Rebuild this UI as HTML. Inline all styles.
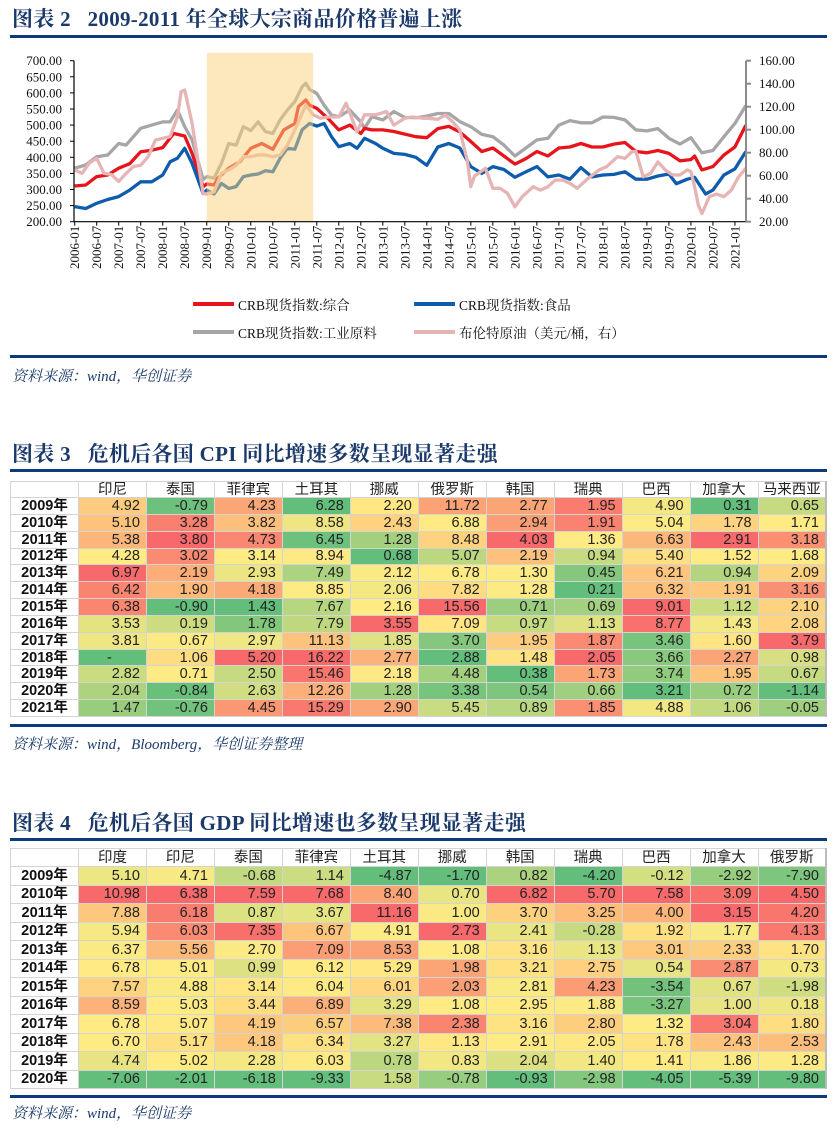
<!DOCTYPE html>
<html><head><meta charset="utf-8">
<style>
*{margin:0;padding:0;box-sizing:border-box}
body{width:837px;height:1130px;background:#fff;position:relative;overflow:hidden;font-family:"Liberation Sans","Noto Sans CJK SC",sans-serif}
.title{position:absolute;left:12px;font-family:"Liberation Serif","Noto Serif CJK SC",serif;font-weight:bold;font-size:21px;line-height:24px;color:#1b3a6b;white-space:pre;letter-spacing:0.3px}
.rule{position:absolute;left:10px;width:817px;height:3px;background:#0d3a7a}
.src{position:absolute;left:12px;font-family:"Liberation Serif","Noto Serif CJK SC",serif;font-style:italic;font-size:15px;color:#1b3a6b;white-space:pre}
.leg{position:absolute;font-family:"Liberation Serif","Noto Serif CJK SC",serif;font-size:13.5px;color:#111;white-space:nowrap;display:flex;align-items:center}
.leg i{display:inline-block;width:41px;height:4px;margin-right:4px}
table{position:absolute;left:10px;width:817px;border-collapse:collapse;table-layout:fixed;border-right:2px solid #bbb}
td,th{border:1px solid #d4d4d4;font-size:14.5px;line-height:14px;color:#222;white-space:nowrap;overflow:hidden;padding:0}
th{font-weight:normal;text-align:center;background:#fff}
td{text-align:right;padding-right:6px}
td.yr{text-align:center;font-weight:bold;background:#fff;padding:0;color:#111}
</style></head><body>

<div class="title" style="top:7px">图表 2   2009-2011 年全球大宗商品价格普遍上涨</div>
<div class="rule" style="top:35px"></div>

<svg id="chart" width="837" height="290" style="position:absolute;left:0;top:0"></svg>

<div class="leg" style="left:193px;top:294px"><i style="background:#e8141c"></i>CRB现货指数:综合</div>
<div class="leg" style="left:414px;top:294px"><i style="background:#0e5cad"></i>CRB现货指数:食品</div>
<div class="leg" style="left:193px;top:322px"><i style="background:#a6a6a6"></i>CRB现货指数:工业原料</div>
<div class="leg" style="left:414px;top:322px"><i style="background:#e6b4b4"></i>布伦特原油（美元/桶，右）</div>
<div class="rule" style="top:355px"></div>
<div class="src" style="top:365px">资料来源：wind，华创证券</div>

<div class="title" style="top:442px">图表 3   危机后各国 CPI 同比增速多数呈现显著走强</div>
<div class="rule" style="top:469px"></div>
<table id="cpi" style="top:481px"></table>
<div class="rule" style="top:724px"></div>
<div class="src" style="top:733px">资料来源：wind，Bloomberg，华创证券整理</div>

<div class="title" style="top:811px">图表 4   危机后各国 GDP 同比增速也多数呈现显著走强</div>
<div class="rule" style="top:838px"></div>
<table id="gdp" style="top:848px"></table>
<div class="rule" style="top:1095px"></div>
<div class="src" style="top:1102px">资料来源：wind，华创证券</div>

<script>
// ---- chart data ----
const redDates=["2006-01","2006-04","2006-07","2006-10","2007-01","2007-04","2007-07","2007-10","2008-01","2008-04","2008-07","2008-09","2008-12","2009-01","2009-03","2009-04","2009-07","2009-10","2010-01","2010-04","2010-07","2010-10","2011-01","2011-02","2011-04","2011-05","2011-07","2011-10","2012-01","2012-04","2012-07","2012-08","2012-10","2013-01","2013-04","2013-07","2013-10","2014-01","2014-04","2014-07","2014-10","2015-01","2015-04","2015-07","2015-10","2016-01","2016-04","2016-07","2016-10","2017-01","2017-04","2017-07","2017-10","2018-01","2018-04","2018-07","2018-10","2019-01","2019-04","2019-07","2019-10","2020-01","2020-02","2020-04","2020-07","2020-10","2021-01","2021-04"];
const redValues=[311,314,340,345,366,380,417,422,430,474,466,412,309,317,314,335,366,386,428,443,425,485,505,557,578,562,552,521,485,500,474,490,485,485,480,472,464,461,489,496,479,449,418,429,404,379,396,418,404,429,432,443,432,432,441,446,418,414,421,412,389,393,404,361,371,407,432,500];
const blueDates=["2006-01","2006-04","2006-07","2006-10","2007-01","2007-04","2007-07","2007-10","2008-01","2008-03","2008-05","2008-07","2008-09","2008-12","2009-01","2009-03","2009-05","2009-07","2009-09","2009-11","2010-01","2010-03","2010-05","2010-07","2010-09","2010-11","2011-01","2011-03","2011-05","2011-07","2011-09","2011-11","2012-01","2012-04","2012-06","2012-08","2012-11","2013-01","2013-04","2013-07","2013-10","2014-01","2014-04","2014-07","2014-10","2015-01","2015-04","2015-07","2015-10","2016-01","2016-04","2016-07","2016-10","2017-01","2017-04","2017-07","2017-10","2018-01","2018-04","2018-07","2018-10","2019-01","2019-04","2019-07","2019-09","2019-12","2020-02","2020-05","2020-07","2020-10","2021-01","2021-04"];
const blueValues=[247,241,257,269,278,298,324,324,345,386,397,428,381,288,298,286,319,303,309,340,345,348,358,355,397,428,425,485,505,497,505,464,433,443,428,459,443,428,412,409,400,375,432,443,429,371,350,371,362,338,355,371,339,345,332,368,339,345,347,355,332,332,342,348,318,332,338,286,298,345,364,418];
const grayDates=["2006-01","2006-04","2006-07","2006-10","2007-01","2007-03","2007-07","2007-10","2008-01","2008-03","2008-05","2008-07","2008-09","2008-12","2009-01","2009-03","2009-05","2009-07","2009-09","2009-11","2010-01","2010-03","2010-05","2010-07","2010-09","2010-11","2011-01","2011-03","2011-04","2011-05","2011-07","2011-09","2011-11","2012-01","2012-04","2012-07","2012-08","2012-10","2013-01","2013-04","2013-07","2013-10","2014-01","2014-04","2014-07","2014-10","2015-01","2015-04","2015-07","2015-10","2016-01","2016-04","2016-07","2016-10","2017-01","2017-04","2017-07","2017-10","2018-01","2018-04","2018-07","2018-10","2019-01","2019-04","2019-07","2019-10","2020-01","2020-04","2020-07","2020-10","2021-01","2021-04"];
const grayValues=[366,376,402,407,443,438,490,500,510,510,547,495,454,331,340,335,381,443,438,495,483,510,480,474,516,547,573,619,630,611,598,562,531,526,547,510,490,526,516,542,524,523,528,536,536,511,495,471,464,438,404,429,454,459,500,514,507,507,525,524,516,485,482,489,459,441,461,414,421,464,505,561];
const brentDates=["2006-01","2006-03","2006-05","2006-07","2006-09","2006-11","2007-01","2007-03","2007-05","2007-07","2007-09","2007-11","2008-01","2008-03","2008-05","2008-06","2008-07","2008-09","2008-11","2008-12","2009-01","2009-03","2009-05","2009-07","2009-09","2009-11","2010-01","2010-03","2010-05","2010-07","2010-09","2010-11","2011-01","2011-04","2011-06","2011-08","2011-10","2012-01","2012-03","2012-06","2012-08","2012-11","2013-02","2013-04","2013-07","2013-09","2013-12","2014-01","2014-04","2014-06","2014-08","2014-10","2014-12","2015-01","2015-02","2015-05","2015-07","2015-09","2015-11","2016-01","2016-03","2016-06","2016-08","2016-10","2016-12","2017-02","2017-04","2017-06","2017-09","2017-12","2018-02","2018-05","2018-07","2018-09","2018-10","2018-12","2019-02","2019-04","2019-06","2019-08","2019-10","2019-12","2020-01","2020-02","2020-03","2020-04","2020-06","2020-08","2020-10","2020-12","2021-02","2021-04"];
const brentValues=[65,62,71,75,62,61,55,62,68,69,76.5,91,92.5,94,111,133,134.5,105.5,65,44.6,44,46,62,65,69,76.5,76.5,78,78,76.5,78,86.7,99.7,121.5,113,110,111,111,123,98,113,113,115.7,104,110,111,110,110,109,112.8,107,99.7,73.6,50.4,59.7,66.4,49,49,44.6,33,41.7,50.4,47.5,50.4,56.2,56.2,53.3,49,57.7,65,67.8,76.5,75,81,81,59,62,72,65,60.6,60.6,65,63.5,50.4,34.5,27,41.7,44,41.7,47.5,59,66.4];
const leftTicks=[200,250,300,350,400,450,500,550,600,650,700];
const rightTicks=[20,40,60,80,100,120,140,160];
const xTickLabels=["2006-01","2006-07","2007-01","2007-07","2008-01","2008-07","2009-01","2009-07","2010-01","2010-07","2011-01","2011-07","2012-01","2012-07","2013-01","2013-07","2014-01","2014-07","2015-01","2015-07","2016-01","2016-07","2017-01","2017-07","2018-01","2018-07","2019-01","2019-07","2020-01","2020-07","2021-01"];
const highlightRange=["2009-01","2011-06"];

const NS="http://www.w3.org/2000/svg";
const svg=document.getElementById('chart');
function mIdx(d){const[y,m]=d.split('-').map(Number);return (y-2006)*12+m-1;}
const X0=74.7,PX=3.668,YB=221.7,YT=60.7;
function xOf(d){return X0+PX*mIdx(d);}
function yL(v){return YB-(v-200)/500*(YB-YT);}
function yR(v){return YB-(v-20)/140*(YB-YT);}
function mk(tag,attrs){const e=document.createElementNS(NS,tag);for(const k in attrs)e.setAttribute(k,attrs[k]);svg.appendChild(e);return e;}
function line(dates,vals,yf,color,name){
  const p=mk('path',{d:dates.map((d,i)=>(i?'L':'M')+xOf(d).toFixed(1)+','+yf(vals[i]).toFixed(1)).join(''),fill:'none',stroke:color,'stroke-width':3.3,'stroke-linejoin':'round'});
  
  
}
line(grayDates,grayValues,yL,'#a6a6a6','series-crb-industrial');
line(redDates,redValues,yL,'#e8141c','series-crb-composite');
line(blueDates,blueValues,yL,'#0e5cad','series-crb-food');
line(brentDates,brentValues,yR,'#e6b4b4','series-brent');
const hr=mk('rect',{x:xOf(highlightRange[0]),y:52.7,width:xOf(highlightRange[1])-xOf(highlightRange[0]),height:YB-52.7,fill:'#fbd27c',opacity:0.5});


mk('line',{x1:74,y1:YT,x2:74,y2:YB,stroke:'#000','stroke-width':1.2});
mk('line',{x1:74,y1:YB,x2:746,y2:YB,stroke:'#000','stroke-width':1.2});
mk('line',{x1:746,y1:YT,x2:746,y2:YB,stroke:'#8c8c8c','stroke-width':2});
leftTicks.forEach(v=>{
  mk('line',{x1:70,y1:yL(v),x2:74,y2:yL(v),stroke:'#000','stroke-width':1});
  const t=mk('text',{x:62,y:yL(v)+4.5,'text-anchor':'end','font-size':13,'font-family':'Liberation Serif,serif',fill:'#111'});t.textContent=v.toFixed(2);
  
  
});
rightTicks.forEach(v=>{
  mk('line',{x1:746,y1:yR(v),x2:751,y2:yR(v),stroke:'#8c8c8c','stroke-width':2});
  const t=mk('text',{x:759,y:yR(v)+4.5,'font-size':13,'font-family':'Liberation Serif,serif',fill:'#111'});t.textContent=v.toFixed(2);
  
  
});
xTickLabels.forEach(d=>{
  const x=xOf(d);
  mk('line',{x1:x,y1:YB,x2:x,y2:YB+4,stroke:'#000','stroke-width':1});
  const t=mk('text',{x:0,y:0,'text-anchor':'end','font-size':13,'font-family':'Liberation Serif,serif',fill:'#111',transform:`translate(${x+4.5},${YB+4}) rotate(-90)`});t.textContent=d;
  
  
});

// ---- table data ----
const cpiCountries=["印尼","泰国","菲律宾","土耳其","挪威","俄罗斯","韩国","瑞典","巴西","加拿大","马来西亚"];
const cpiYears=["2009年","2010年","2011年","2012年","2013年","2014年","2015年","2016年","2017年","2018年","2019年","2020年","2021年"];
const cpiValues=[
[4.92,-0.79,4.23,6.28,2.20,11.72,2.77,1.95,4.90,0.31,0.65],
[5.10,3.28,3.82,8.58,2.43,6.88,2.94,1.91,5.04,1.78,1.71],
[5.38,3.80,4.73,6.45,1.28,8.48,4.03,1.36,6.63,2.91,3.18],
[4.28,3.02,3.14,8.94,0.68,5.07,2.19,0.94,5.40,1.52,1.68],
[6.97,2.19,2.93,7.49,2.12,6.78,1.30,0.45,6.21,0.94,2.09],
[6.42,1.90,4.18,8.85,2.06,7.82,1.28,0.21,6.32,1.91,3.16],
[6.38,-0.90,1.43,7.67,2.16,15.56,0.71,0.69,9.01,1.12,2.10],
[3.53,0.19,1.78,7.79,3.55,7.09,0.97,1.13,8.77,1.43,2.08],
[3.81,0.67,2.97,11.13,1.85,3.70,1.95,1.87,3.46,1.60,3.79],
[null,1.06,5.20,16.22,2.77,2.88,1.48,2.05,3.66,2.27,0.98],
[2.82,0.71,2.50,15.46,2.18,4.48,0.38,1.73,3.74,1.95,0.67],
[2.04,-0.84,2.63,12.26,1.28,3.38,0.54,0.66,3.21,0.72,-1.14],
[1.47,-0.76,4.45,15.29,2.90,5.45,0.89,1.85,4.88,1.06,-0.05]];
const gdpCountries=["印度","印尼","泰国","菲律宾","土耳其","挪威","韩国","瑞典","巴西","加拿大","俄罗斯"];
const gdpYears=["2009年","2010年","2011年","2012年","2013年","2014年","2015年","2016年","2017年","2018年","2019年","2020年"];
const gdpValues=[
[5.10,4.71,-0.68,1.14,-4.87,-1.70,0.82,-4.20,-0.12,-2.92,-7.90],
[10.98,6.38,7.59,7.68,8.40,0.70,6.82,5.70,7.58,3.09,4.50],
[7.88,6.18,0.87,3.67,11.16,1.00,3.70,3.25,4.00,3.15,4.20],
[5.94,6.03,7.35,6.67,4.91,2.73,2.41,-0.28,1.92,1.77,4.13],
[6.37,5.56,2.70,7.09,8.53,1.08,3.16,1.13,3.01,2.33,1.70],
[6.78,5.01,0.99,6.12,5.29,1.98,3.21,2.75,0.54,2.87,0.73],
[7.57,4.88,3.14,6.04,6.01,2.03,2.81,4.23,-3.54,0.67,-1.98],
[8.59,5.03,3.44,6.89,3.29,1.08,2.95,1.88,-3.27,1.00,0.18],
[6.78,5.07,4.19,6.57,7.38,2.38,3.16,2.80,1.32,3.04,1.80],
[6.70,5.17,4.18,6.34,3.27,1.13,2.91,2.05,1.78,2.43,2.53],
[4.74,5.02,2.28,6.03,0.78,0.83,2.04,1.40,1.41,1.86,1.28],
[-7.06,-2.01,-6.18,-9.33,1.58,-0.78,-0.93,-2.98,-4.05,-5.39,-9.80]];

function mix(a,b,t){return a.map((v,i)=>Math.round(v+(b[i]-v)*t));}
const G=[99,190,123],Yc=[255,235,132],R=[248,105,107];
function colorFor(v,col){
  const s=col.slice().sort((a,b)=>a-b);const n=s.length;
  const mn=s[0],mx=s[n-1];const mid=n%2?s[(n-1)/2]:(s[n/2-1]+s[n/2])/2;
  let c;
  if(v<=mid)c=mix(G,Yc,mid===mn?1:(v-mn)/(mid-mn));else c=mix(Yc,R,mx===mid?1:(v-mid)/(mx-mid));
  return `rgb(${c[0]},${c[1]},${c[2]})`;
}
function build(id,countries,years,vals,hh,rh,prefix){
  const tb=document.getElementById(id);
  const cg=document.createElement('colgroup');
  const c0=document.createElement('col');c0.style.width='68px';cg.appendChild(c0);
  countries.forEach(()=>{const c=document.createElement('col');cg.appendChild(c);});
  tb.appendChild(cg);
  const hr=document.createElement('tr');
  const e=document.createElement('th');e.style.height=hh+'px';hr.appendChild(e);
  countries.forEach(c=>{const th=document.createElement('th');th.textContent=c;th.style.height=hh+'px';
    
    
    hr.appendChild(th);});
  tb.appendChild(hr);
  const cols=countries.map((_,j)=>vals.map(r=>r[j]===null?0:r[j]));
  years.forEach((y,i)=>{
    const tr=document.createElement('tr');
    const yd=document.createElement('td');yd.className='yr';yd.textContent=y;yd.style.height=rh+'px';
    
    
    tr.appendChild(yd);
    vals[i].forEach((v,j)=>{
      const td=document.createElement('td');
      const vv=v===null?0:v;
      td.style.height=rh+'px';
      td.style.background=colorFor(vv,cols[j]);
      td.textContent=v===null?'-':v.toFixed(2);
      if(v===null)td.style.textAlign='center';
      
      
      tr.appendChild(td);
    });
    tb.appendChild(tr);
  });
}
build('cpi',cpiCountries,cpiYears,cpiValues,16,16.85,'cpi');
build('gdp',gdpCountries,gdpYears,gdpValues,18,18.5,'gdp');
</script>
</body></html>
